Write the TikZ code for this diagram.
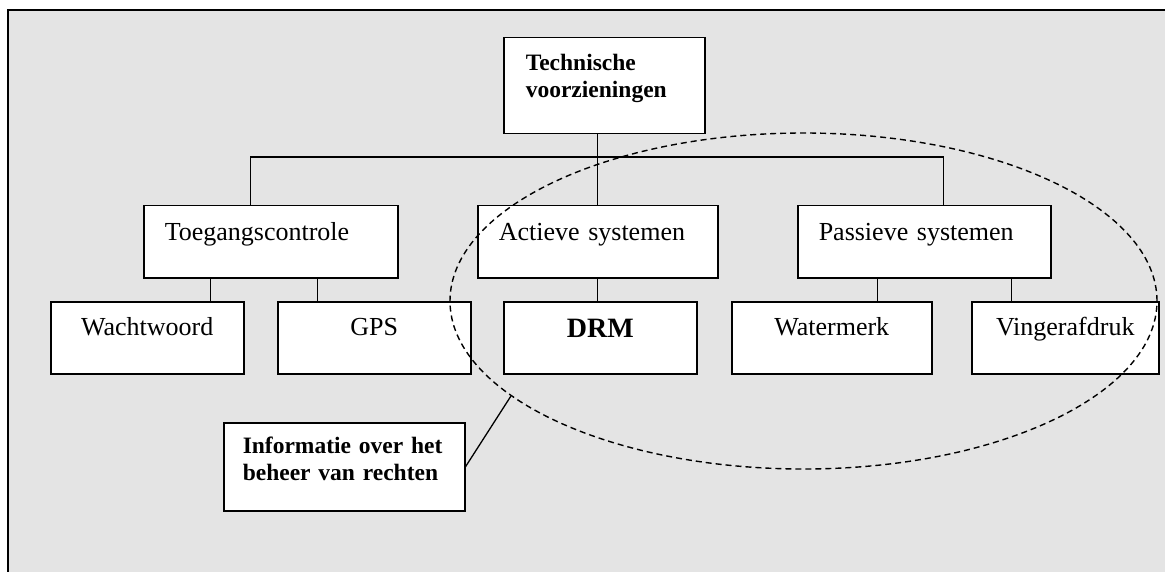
\documentclass[tikz,border=0pt]{standalone}
\usepackage{fontspec}
\setmainfont{Liberation Serif}
\usetikzlibrary{shapes.geometric}
\definecolor{panel}{HTML}{E4E4E4}

\begin{document}
\begin{tikzpicture}[
  x=1pt,
  y=-1pt,
  box/.style={
    draw,
    fill=white,
    line width=1.5pt,
    inner xsep=0pt,
    inner ysep=0pt,
    anchor=north west,
    font=\fontsize{26}{28}\selectfont
  },
  group/.style={
    box,
    inner xsep=21pt,
    align=left,
    text height=35pt,
    text depth=37pt
  },
  leaf/.style={
    box,
    text height=34pt,
    text depth=38pt
  },
  note/.style={
    box,
    align=left,
    font=\fontsize{23.5}{26.5}\selectfont\bfseries
  },
  wire/.style={
    line width=1.3pt
  },
]
\useasboundingbox (0,0) rectangle (1165,572);
\fill[panel] (8,10) rectangle (1165,572);
\draw[line width=2.2pt] (8,572) -- (8,10) -- (1165,10);

\node[note, inner xsep=22pt, text width=157pt, text height=33pt, text depth=63pt] (top) at (503,37) {Technische\\voorzieningen};

\node[group, text width=212pt] (toeg) at (143,205) {Toegangscontrole};
\node[group, text width=198pt] (act) at (477,205) {Actieve systemen};
\node[group, text width=211pt] (pas) at (797,205) {Passieve systemen};

\node[leaf, minimum width=193pt] (wacht) at (50,301) {Wachtwoord};
\node[leaf, minimum width=193pt] (gps) at (277,301) {GPS};
\node[leaf, minimum width=193pt, text height=36pt, text depth=36pt,
  font=\fontsize{28}{30}\selectfont\bfseries] (drm) at (503,301) {DRM};
\node[leaf, minimum width=200pt] (water) at (731,301) {Watermerk};
\node[leaf, minimum width=187pt] (vinger) at (971,301) {Vingerafdruk};

\node[note, inner xsep=19pt, text width=203pt, text height=31pt, text depth=57pt] (info) at (223,422) {Informatie over het\\beheer van rechten};

\coordinate (bus) at (597,157);
\draw[wire] (act.north) -- (act.north |- top.south);
\draw[wire] ([xshift=-20pt]toeg.north) |- (bus) -| ([xshift=19.5pt]pas.north);

\draw[wire] ([xshift=-60pt]toeg.south) -- ([xshift=-60pt]toeg.south |- wacht.north);
\draw[wire] ([xshift=47pt]toeg.south) -- ([xshift=47pt]toeg.south |- gps.north);
\draw[wire] (act.south) -- (act.south |- drm.north);
\draw[wire] ([xshift=-46.5pt]pas.south) -- ([xshift=-46.5pt]pas.south |- water.north);
\draw[wire] ([xshift=87.5pt]pas.south) -- ([xshift=87.5pt]pas.south |- vinger.north);

\node[draw, ellipse, dashed, dash pattern=on 6pt off 4pt, line width=1.4pt,
  minimum width=707pt, minimum height=336pt, inner sep=0pt] (ring) at (803.5,301) {};
\draw[wire] (info.east) -- (ring.198.7);
\end{tikzpicture}
\end{document}
